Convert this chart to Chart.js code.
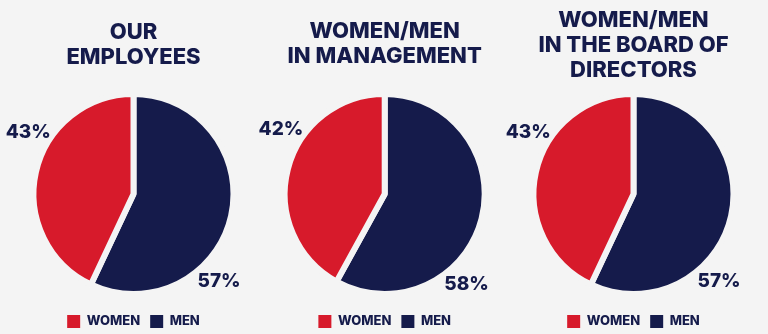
<!DOCTYPE html>
<html>
<head>
<meta charset="utf-8">
<script src="https://cdn.jsdelivr.net/npm/chart.js@4.4.0/dist/chart.umd.min.js"></script>
<style>
  html, body { margin: 0; padding: 0; background: #f4f4f4; }
  .row { position: relative; width: 768px; height: 334px; }
  canvas { display: block; position: absolute; top: 0; }
</style>
</head>
<body>
<div class="row">
  <canvas id="pie-employees" width="256" height="334" style="left:0"></canvas>
  <canvas id="pie-management" width="256" height="334" style="left:256px"></canvas>
  <canvas id="pie-board" width="268" height="334" style="left:500px"></canvas>
</div>
<script>
const chartTitles = [
    ["OUR", "EMPLOYEES"],
    ["WOMEN/MEN", "IN MANAGEMENT"],
    ["WOMEN/MEN", "IN THE BOARD OF", "DIRECTORS"],
];
const seriesNames = ["WOMEN", "MEN"];
const womenShare = [43, 42, 43];
const menShare = [57, 58, 57];

const RED = '#d71a2b';
const NAVY = '#151b4b';
const BG = '#f4f4f4';
const FONT = 'Inter';

// where along each slice the percentage sits (men, women)
const labelFraction = [0.66, 0.615];

// percentage printed just outside each slice
const percentLabels = {
    id: 'percentLabels',
    afterDatasetsDraw(chart) {
        const ctx = chart.ctx;
        const meta = chart.getDatasetMeta(0);
        ctx.save();
        ctx.font = `800 19px ${FONT}`;
        ctx.fillStyle = NAVY;
        ctx.textAlign = 'center';
        ctx.textBaseline = 'middle';
        meta.data.forEach((arc, i) => {
            const p = arc.getProps(['x', 'y', 'startAngle', 'endAngle', 'outerRadius'], true);
            const a = p.startAngle + (p.endAngle - p.startAngle) * labelFraction[i];
            const r = p.outerRadius + 22;
            ctx.fillText(chart.data.datasets[0].data[i] + '%', p.x + Math.cos(a) * r, p.y + Math.sin(a) * r);
        });
        ctx.restore();
    }
};

const generatePie = function (id, i, opts) {
    const config = {
        type: 'pie',
        data: {
            // men first so the navy slice starts at 12 o'clock
            labels: [seriesNames[1], seriesNames[0]],
            datasets: [{
                data: [menShare[i], womenShare[i]],
                backgroundColor: [NAVY, RED],
                borderColor: BG,
                borderWidth: 6,
            }]
        },
        options: {
            responsive: false,
            animation: false,
            layout: {
                padding: { left: opts.padL, right: opts.padR, top: 0, bottom: -4 },
            },
            plugins: {
                title: {
                    display: true,
                    text: chartTitles[i],
                    color: NAVY,
                    font: { family: FONT, size: 22, weight: 800, lineHeight: 1.1455 },
                    padding: { top: opts.titleTop, bottom: opts.titleBottom },
                },
                legend: {
                    position: 'bottom',
                    reverse: true,
                    labels: {
                        boxWidth: 13,
                        boxHeight: 13,
                        padding: 10,
                        color: NAVY,
                        font: { family: FONT, size: 13, weight: 800 },
                        generateLabels: function (chart) {
                            return Chart.overrides.pie.plugins.legend.labels.generateLabels(chart)
                                .map(l => Object.assign(l, { lineWidth: 0 }));
                        },
                    },
                },
                tooltip: { enabled: false },
            },
        },
        plugins: [percentLabels],
    };
    new Chart(document.getElementById(id), config);
};

generatePie('pie-employees', 0, { padL: 30.5, padR: 19.5, titleTop: 19.5, titleBottom: 13.1 });
generatePie('pie-management', 1, { padL: 25.7, padR: 24.3, titleTop: 18.5, titleBottom: 14.1 });
generatePie('pie-board', 2, { padL: 30.5, padR: 31.5, titleTop: 7.5, titleBottom: -0.1 });
</script>
</body>
</html>
